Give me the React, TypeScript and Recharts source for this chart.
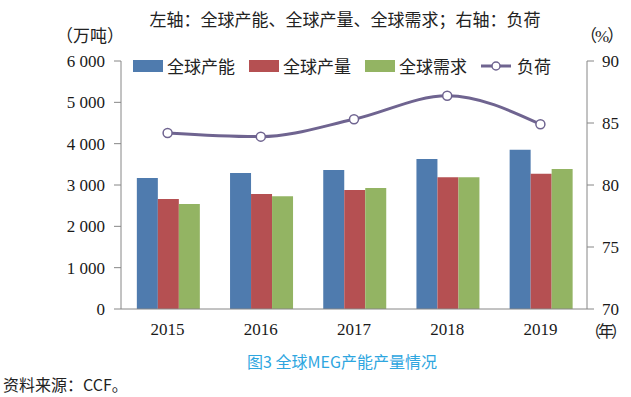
import {
  Bar,
  ComposedChart,
  Line,
  XAxis,
  YAxis,
} from "recharts";

// values
const years = ["2015", "2016", "2017", "2018", "2019"];
const capacity = [3170, 3290, 3360, 3630, 3850];
const output = [2660, 2780, 2880, 3190, 3270];
const demand = [2540, 2730, 2930, 3190, 3390];
const load = [84.2, 83.9, 85.3, 87.2, 84.9];

const leftTicks = [0, 1000, 2000, 3000, 4000, 5000, 6000];
const rightTicks = [70, 75, 80, 85, 90];

const data = years.map((year, i) => ({
  year,
  capacity: capacity[i],
  output: output[i],
  demand: demand[i],
  load: load[i],
}));

const BLUE = "#4F7BAE";
const RED = "#B55052";
const GREEN = "#93B463";
const PURPLE = "#6F6490";
const AXIS = "#868686";

const serif = "'Liberation Serif', 'Noto Sans CJK SC', serif";
const sans = "'Noto Sans CJK SC', 'Noto Sans', sans-serif";

const tickStyle = { fontFamily: serif, fontSize: 17, fill: "#1a1a1a" };

// "6 000" style labels
const fmt = (v: number) => String(v).replace(/\B(?=(\d{3})+(?!\d))/g, " ");

const legendItems = [
  { label: "全球产能", color: BLUE, type: "rect" },
  { label: "全球产量", color: RED, type: "rect" },
  { label: "全球需求", color: GREEN, type: "rect" },
  { label: "负荷", color: PURPLE, type: "line" },
];

function ChartLegend() {
  return (
    <div
      style={{
        position: "absolute",
        top: 53,
        left: 133,
        display: "flex",
        alignItems: "center",
        fontFamily: sans,
        fontSize: 17,
        color: "#222",
        zIndex: 2,
      }}
    >
      {legendItems.map((item) => (
        <div key={item.label} style={{ display: "flex", alignItems: "center", marginRight: 14 }}>
          {item.type === "rect" ? (
            <span style={{ width: 30, height: 12, background: item.color, display: "inline-block", marginRight: 4 }} />
          ) : (
            <svg width={30} height={12} style={{ marginRight: 6 }}>
              <line x1={0} y1={6} x2={30} y2={6} stroke={item.color} strokeWidth={3} />
              <circle cx={15} cy={6} r={4} fill="#fff" stroke={item.color} strokeWidth={1.5} />
            </svg>
          )}
          <span>{item.label}</span>
        </div>
      ))}
    </div>
  );
}

export default function App() {
  return (
    <div style={{ position: "absolute", left: 0, top: 0, width: 631, height: 397, background: "#fff" }}>
      <div style={{ position: "absolute", top: 6, left: 0, width: 690, textAlign: "center", fontFamily: sans, fontSize: 17, color: "#222" }}>
        左轴：全球产能、全球产量、全球需求；右轴：负荷
      </div>
      <div style={{ position: "absolute", top: 22, left: 56, fontFamily: sans, fontSize: 17, color: "#222" }}>
        （万吨）
      </div>
      <div style={{ position: "absolute", top: 22, left: 580, fontFamily: serif, fontSize: 17, color: "#222", letterSpacing: -2 }}>
        （%）
      </div>
      <div style={{ position: "absolute", top: 318, left: 585, fontFamily: sans, fontSize: 16, color: "#222", letterSpacing: -3 }}>
        （年）
      </div>
      <ChartLegend />
      <ComposedChart
        width={631}
        height={397}
        data={data}
        margin={{ top: 61, right: 0, bottom: 58, left: 0 }}
        barCategoryGap="17%"
        barGap={0}
      >
        <XAxis
          dataKey="year"
          stroke={AXIS}
          tickLine={false}
          tickSize={0}
          tickMargin={14}
          height={30}
          tick={tickStyle}
        />
        <YAxis
          yAxisId="left"
          domain={[0, 6000]}
          ticks={leftTicks}
          tickFormatter={fmt}
          width={121}
          stroke={AXIS}
          tickSize={7}
          tickMargin={9}
          tick={tickStyle}
          interval={0}
        />
        <YAxis
          yAxisId="right"
          orientation="right"
          domain={[70, 90]}
          ticks={rightTicks}
          width={44}
          stroke={AXIS}
          tickSize={7}
          tickMargin={8}
          tick={tickStyle}
          interval={0}
        />
        <Bar yAxisId="left" dataKey="capacity" fill={BLUE} isAnimationActive={false} />
        <Bar yAxisId="left" dataKey="output" fill={RED} isAnimationActive={false} />
        <Bar yAxisId="left" dataKey="demand" fill={GREEN} isAnimationActive={false} />
        <Line
          yAxisId="right"
          dataKey="load"
          type="monotone"
          stroke={PURPLE}
          strokeWidth={3}
          dot={{ r: 4.5, fill: "#fff", stroke: PURPLE, strokeWidth: 1.5 }}
          isAnimationActive={false}
        />
      </ComposedChart>
      <div style={{ position: "absolute", top: 349, left: 0, width: 684, textAlign: "center", fontFamily: sans, fontSize: 16, color: "#2EA6DF" }}>
        图3 全球MEG产能产量情况
      </div>
      <div style={{ position: "absolute", top: 372, left: 3, fontFamily: sans, fontSize: 16, color: "#222" }}>
        资料来源：CCF。
      </div>
    </div>
  );
}
